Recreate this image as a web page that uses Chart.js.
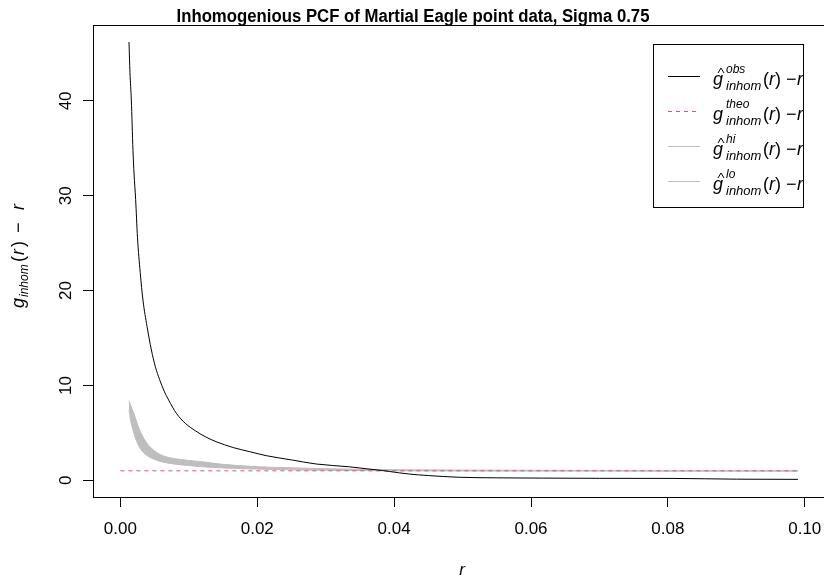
<!DOCTYPE html>
<html>
<head>
<meta charset="utf-8">
<script src="https://cdn.jsdelivr.net/npm/chart.js@4.4.1/dist/chart.umd.min.js"></script>
<style>
  html, body { margin: 0; padding: 0; background: #fff; overflow: hidden; }
  #wrap { width: 824px; height: 576px; overflow: hidden; position: relative; }
  canvas { position: absolute; left: 0; top: 0; }
</style>
</head>
<body>
<div id="wrap"><canvas id="pcf" width="830" height="576"></canvas></div>
<script>
'use strict';

// ── Data ────────────────────────────────────────────────────
const xTicks = [0, 0.02, 0.04, 0.06, 0.08, 0.10];
const yTicks = [0, 10, 20, 30, 40];

const rObs = [0.00126, 0.0014, 0.0016, 0.00184, 0.002, 0.00223, 0.0025, 0.0029, 0.0033, 0.0039,
              0.00453, 0.0051, 0.00574, 0.0064, 0.00705, 0.00817, 0.0095, 0.011, 0.0125, 0.014,
              0.0165, 0.0189, 0.0213, 0.025, 0.0286, 0.0335, 0.0359, 0.0383, 0.0393, 0.0422,
              0.045, 0.0495, 0.055, 0.0617, 0.07, 0.0806, 0.09, 0.099];
const gObs = [46.2, 43.0, 40.1, 34.8, 32.3, 29.6, 25.6, 21.9, 19.0, 16.2,
              13.75, 12.0, 10.6, 9.4, 8.47, 7.07, 6.0, 5.2, 4.56, 4.07,
              3.45, 3.02, 2.6, 2.15, 1.72, 1.42, 1.22, 1.03, 0.93, 0.66,
              0.5, 0.32, 0.26, 0.23, 0.21, 0.2, 0.12, 0.1];

const rTheo = [0, 0.099];
const gTheo = [1, 1];

const rEnv = [0.00126, 0.0015, 0.002, 0.0025, 0.003, 0.004, 0.005, 0.006, 0.008, 0.01,
              0.012, 0.015, 0.02, 0.025, 0.03, 0.04, 0.05, 0.06, 0.07, 0.08, 0.09, 0.099];
const gHi  = [8.4, 7.9, 7.0, 5.9, 5.0, 3.8, 3.1, 2.65, 2.28, 2.1,
              1.95, 1.68, 1.44, 1.32, 1.22, 1.12, 1.08, 1.06, 1.04, 1.02, 1.02, 1.02];
const gLo  = [7.4, 6.3, 4.9, 3.9, 3.25, 2.55, 2.2, 1.95, 1.7, 1.55,
              1.42, 1.3, 1.18, 1.1, 1.05, 1.0, 0.98, 0.97, 0.97, 0.96, 0.96, 0.96];

const FONT = "'Liberation Sans', Arial, sans-serif";
const RED  = '#DF536B';
const GREY = '#BEBEBE';

const pts = (xs, ys) => xs.map((x, i) => ({ x, y: ys[i] }));

// ── Plotmath-like label: g-hat with sup/sub, then (r) - r ──
const drawMath = (ctx, x, y, o) => {
    ctx.save();
    ctx.fillStyle = '#000';
    ctx.textBaseline = 'alphabetic';
    ctx.textAlign = 'left';
    ctx.font = `italic ${o.main}px ${FONT}`;
    ctx.fillText('g', x, y);
    if (o.hat) {
        ctx.strokeStyle = '#000';
        ctx.lineWidth = 1;
        ctx.beginPath();
        ctx.moveTo(x + 5, y - 12);
        ctx.lineTo(x + 8, y - 17);
        ctx.lineTo(x + 11, y - 12);
        ctx.stroke();
    }
    if (o.sup) {
        ctx.font = `italic ${o.supSize}px ${FONT}`;
        ctx.fillText(o.sup, x + o.off[1], y - 12);
    }
    ctx.font = `italic ${o.subSize}px ${FONT}`;
    ctx.fillText('inhom', x + o.off[1], y + o.subDy);
    ctx.font = `${o.main}px ${FONT}`;
    ctx.fillText('(', x + o.off[2], y);
    ctx.fillText(')', x + o.off[4], y);
    ctx.fillText('\u2212', x + o.off[5], y);
    ctx.font = `italic ${o.main}px ${FONT}`;
    ctx.fillText('r', x + o.off[3], y);
    ctx.fillText('r', x + o.off[6], y);
    ctx.restore();
};

const rDecor = {
    id: 'rDecor',
    afterDraw(chart) {
        const { ctx, chartArea: a, scales } = chart;
        ctx.save();

        // plot box
        ctx.strokeStyle = '#000';
        ctx.lineWidth = 1;
        ctx.strokeRect(Math.round(a.left) + 0.5, Math.round(a.top) + 0.5,
                       Math.round(a.right - a.left), Math.round(a.bottom - a.top));

        // title, fitted to the reference width
        const title = 'Inhomogenious PCF of Martial Eagle point data, Sigma 0.75';
        ctx.fillStyle = '#000';
        ctx.font = `bold 18px ${FONT}`;
        ctx.textAlign = 'center';
        ctx.textBaseline = 'alphabetic';
        const tw = ctx.measureText(title).width;
        ctx.save();
        ctx.translate(413, 22);
        ctx.scale(473 / tw, 1);
        ctx.fillText(title, 0, 0);
        ctx.restore();

        // y tick labels, parallel to axis
        ctx.font = `17px ${FONT}`;
        yTicks.forEach(v => {
            ctx.save();
            ctx.translate(71, scales.y.getPixelForValue(v));
            ctx.rotate(-Math.PI / 2);
            ctx.fillText(String(v), 0, 0);
            ctx.restore();
        });

        // x axis title
        ctx.font = `italic 17px ${FONT}`;
        ctx.fillText('r', 462, 575);

        // y axis title
        ctx.save();
        ctx.translate(24, 308);
        ctx.rotate(-Math.PI / 2);
        drawMath(ctx, 0, 0, { main: 18, subSize: 12, subDy: 4, hat: false,
                              off: [0, 11, 46, 53, 61, 75, 98] });
        ctx.restore();

        // legend
        const lx = 653.5, ly = 44.5, lw = 150, lh = 163;
        ctx.fillStyle = '#fff';
        ctx.fillRect(lx, ly, lw, lh);
        ctx.strokeStyle = '#000';
        ctx.strokeRect(lx, ly, lw, lh);
        const rows = [
            { sup: 'obs',  hat: true,  color: '#000', dash: [] },
            { sup: 'theo', hat: false, color: RED,    dash: [4, 4] },
            { sup: 'hi',   hat: true,  color: GREY,   dash: [] },
            { sup: 'lo',   hat: true,  color: GREY,   dash: [] },
        ];
        rows.forEach((row, i) => {
            const base = 85 + i * 35;
            const ly2 = base - 8.5;
            ctx.strokeStyle = row.color;
            ctx.setLineDash(row.dash);
            ctx.beginPath();
            ctx.moveTo(668, ly2);
            ctx.lineTo(700, ly2);
            ctx.stroke();
            ctx.setLineDash([]);
            drawMath(ctx, 713, base, { main: 18, supSize: 12, subSize: 13, subDy: 5,
                                       hat: row.hat, sup: row.sup,
                                       off: [0, 13, 50, 56, 62, 73, 84] });
        });
        ctx.restore();
    }
};

new Chart(document.getElementById('pcf'), {
    type: 'line',
    data: {
        datasets: [
            { label: 'obs', data: pts(rObs, gObs), borderColor: '#000', borderWidth: 1,
              pointRadius: 0, fill: false, cubicInterpolationMode: 'monotone' },
            { label: 'theo', data: pts(rTheo, gTheo), borderColor: RED, borderWidth: 1,
              borderDash: [4, 4], pointRadius: 0, fill: false },
            { label: 'hi', data: pts(rEnv, gHi), borderColor: GREY, borderWidth: 1,
              backgroundColor: GREY, pointRadius: 0, fill: '+1', cubicInterpolationMode: 'monotone' },
            { label: 'lo', data: pts(rEnv, gLo), borderColor: GREY, borderWidth: 1,
              pointRadius: 0, fill: false, cubicInterpolationMode: 'monotone' },
        ]
    },
    options: {
        responsive: false,
        animation: false,
        events: [],
        layout: { padding: { top: 25, right: 4, left: 0, bottom: 0 } },
        plugins: { legend: { display: false }, tooltip: { enabled: false }, title: { display: false } },
        scales: {
            x: {
                type: 'linear', min: -0.004, max: 0.1031,
                afterBuildTicks: s => { s.ticks = xTicks.map(value => ({ value })); },
                afterFit: s => { s.height = 79; s.paddingLeft = 0; s.paddingRight = 0; },
                ticks: { color: '#000', font: { family: FONT, size: 17 }, padding: 12,
                         maxRotation: 0, autoSkip: false, callback: v => Number(v).toFixed(2) },
                grid: { drawOnChartArea: false, tickLength: 10, color: '#000', tickColor: '#000' },
                border: { color: '#000', width: 1 }
            },
            y: {
                type: 'linear', min: -1.76, max: 48.0,
                afterBuildTicks: s => { s.ticks = yTicks.map(value => ({ value })); },
                afterFit: s => { s.width = 93; s.paddingTop = 0; s.paddingBottom = 0; },
                ticks: { callback: () => '', font: { size: 1 } },
                grid: { drawOnChartArea: false, tickLength: 10, color: '#000', tickColor: '#000' },
                border: { color: '#000', width: 1 }
            }
        }
    },
    plugins: [rDecor]
});
</script>
</body>
</html>
